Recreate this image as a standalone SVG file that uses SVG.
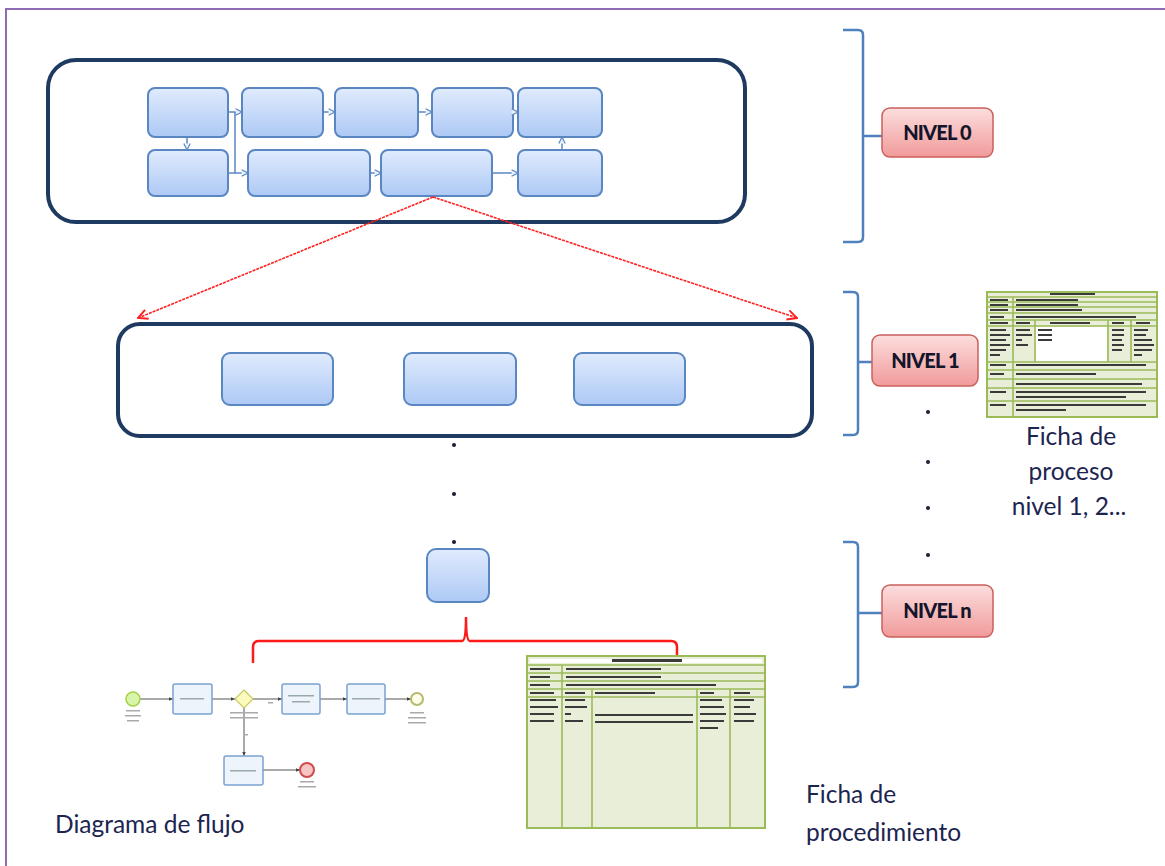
<svg xmlns="http://www.w3.org/2000/svg" width="1165" height="866" viewBox="0 0 1165 866">
<defs>
<linearGradient id="gBlue" x1="0" y1="0" x2="0" y2="1"><stop offset="0" stop-color="#e0ebfd"/><stop offset="1" stop-color="#adc9f5"/></linearGradient>
<linearGradient id="gPink" x1="0" y1="0" x2="0" y2="1"><stop offset="0" stop-color="#fcdede"/><stop offset="1" stop-color="#f19a9a"/></linearGradient>
<marker id="mBlue" viewBox="0 0 10 10" refX="9" refY="5" markerWidth="8" markerHeight="8" orient="auto" markerUnits="userSpaceOnUse"><path d="M1,1 L9,5 L1,9" fill="#eaf1fc" stroke="#5b87c4" stroke-width="1.5"/></marker>
<marker id="mRed" viewBox="0 0 10 10" refX="9" refY="5" markerWidth="12" markerHeight="12" orient="auto" markerUnits="userSpaceOnUse"><path d="M1,1 L9,5 L1,9" fill="none" stroke="#ff2020" stroke-width="1.6"/></marker>
<marker id="mGray" viewBox="0 0 10 10" refX="9" refY="5" markerWidth="5" markerHeight="5" orient="auto" markerUnits="userSpaceOnUse"><path d="M0,1 L9,5 L0,9 Z" fill="#444"/></marker>
</defs>
<style>
.panel{fill:#fff;stroke:#1f3a60;stroke-width:4}
.bx{fill:url(#gBlue);stroke:#5a86c2;stroke-width:2}
.lvl{fill:url(#gPink);stroke:#c9605c;stroke-width:1.5}
.lvlt{font-family:Lato,"Liberation Sans",sans-serif;font-weight:900;font-size:20px;fill:#14142a;text-anchor:middle;letter-spacing:-0.8px}
.brk{fill:none;stroke:#4f81bd;stroke-width:2.5}
.blink{fill:none;stroke:#5b87c4;stroke-width:1.5}
.red{fill:none;stroke:#ff2020;stroke-width:1.6;stroke-dasharray:3 1}
.redb{fill:none;stroke:#ff1a1a;stroke-width:2.5}
.dot{fill:#1b1b33}
.lab{font-family:Lato,"Open Sans","Liberation Sans",sans-serif;font-size:24.5px;fill:#1c2550}
.tbl{fill:#e8eed8;stroke:#9bbb59;stroke-width:2}
.tl{stroke:#9bbb59;stroke-width:1.6;fill:none}
.tx{fill:#3a3a3a}
.wh{fill:#fff}
.task{fill:#eef4fc;stroke:#7aa2cf;stroke-width:1.5}
.fl{fill:none;stroke:#555;stroke-width:1}
</style>
<rect x="6" y="9" width="1160" height="870" fill="none" stroke="#8e6bb3" stroke-width="2"/>

<g id="nivel0-panel">
<rect class="panel" x="48" y="60" width="697" height="162" rx="28"/>
<rect class="bx" x="148" y="88" width="80" height="49" rx="7"/>
<rect class="bx" x="242" y="88" width="81" height="49" rx="7"/>
<rect class="bx" x="335" y="88" width="83" height="49" rx="7"/>
<rect class="bx" x="432" y="88" width="81" height="49" rx="7"/>
<rect class="bx" x="518" y="88" width="84" height="49" rx="7"/>
<rect class="bx" x="148" y="150" width="80" height="46" rx="7"/>
<rect class="bx" x="248" y="150" width="122" height="46" rx="7"/>
<rect class="bx" x="381" y="150" width="111" height="46" rx="7"/>
<rect class="bx" x="518" y="150" width="84" height="46" rx="7"/>
</g>

<g id="nivel1-panel">
<rect class="panel" x="118" y="324" width="694" height="112" rx="22"/>
<rect class="bx" x="222" y="353" width="111" height="52" rx="8"/>
<rect class="bx" x="404" y="353" width="112" height="52" rx="8"/>
<rect class="bx" x="574" y="353" width="111" height="52" rx="8"/>
</g>

<g id="niveln-box">
<rect class="bx" x="427" y="549" width="62" height="53" rx="9"/>
</g>

<g id="connectors">
<line class="blink" x1="187" y1="137" x2="187" y2="150" marker-end="url(#mBlue)"/>
<line class="blink" x1="228" y1="112" x2="242" y2="112" marker-end="url(#mBlue)"/>
<line class="blink" x1="235" y1="112" x2="235" y2="173"/>
<line class="blink" x1="228" y1="173" x2="248" y2="173" marker-end="url(#mBlue)"/>
<line class="blink" x1="323" y1="112" x2="335" y2="112" marker-end="url(#mBlue)"/>
<line class="blink" x1="418" y1="112" x2="432" y2="112" marker-end="url(#mBlue)"/>
<line class="blink" x1="513" y1="112" x2="518" y2="112" marker-end="url(#mBlue)"/>
<line class="blink" x1="370" y1="173" x2="381" y2="173" marker-end="url(#mBlue)"/>
<line class="blink" x1="492" y1="173" x2="518" y2="173" marker-end="url(#mBlue)"/>
<line class="blink" x1="562" y1="150" x2="562" y2="137" marker-end="url(#mBlue)"/>
<line class="red" x1="433" y1="197" x2="138" y2="318" marker-end="url(#mRed)"/>
<line class="red" x1="433" y1="197" x2="797" y2="318" marker-end="url(#mRed)"/>
<path class="redb" d="M253,663 L253,647 Q253,641 259,641 L462,641 Q466,641 466,617 Q466,641 470,641 L671,641 Q677,641 677,647 L677,656"/>
<path class="brk" d="M843,30 L858,30 Q863,30 863,35 L863,237 Q863,242 858,242 L843,242 M863,136 L883,136"/>
<path class="brk" d="M843,292 L853,292 Q858,292 858,297 L858,430 Q858,435 853,435 L843,435 M858,362 L873,362"/>
<path class="brk" d="M843,542 L853,542 Q858,542 858,547 L858,682 Q858,687 853,687 L843,687 M858,613 L882,613"/>
</g>

<g id="dots">
<circle class="dot" cx="454" cy="445" r="2"/>
<circle class="dot" cx="454" cy="494" r="2"/>
<circle class="dot" cx="454" cy="542" r="2"/>
<circle class="dot" cx="928" cy="412" r="2"/>
<circle class="dot" cx="928" cy="462" r="2"/>
<circle class="dot" cx="928" cy="508" r="2"/>
<circle class="dot" cx="928" cy="555" r="2"/>
</g>

<g id="nivel0">
<rect class="lvl" x="882" y="108" width="111" height="49" rx="8"/>
<text class="lvlt" x="937" y="140">NIVEL 0</text>
</g>
<g id="nivel1">
<rect class="lvl" x="872" y="335" width="106" height="51" rx="8"/>
<text class="lvlt" x="925" y="368">NIVEL 1</text>
</g>
<g id="niveln">
<rect class="lvl" x="882" y="585" width="111" height="52" rx="8"/>
<text class="lvlt" x="937" y="618">NIVEL n</text>
</g>

<g id="ficha-proceso">
<rect class="tbl" x="987" y="292" width="170" height="125"/>
<path class="tl" d="M987,297 H1157 M987,302 H1157 M987,307 H1157 M987,313 H1157 M987,320 H1157 M987,326 H1157 M987,362 H1157 M987,370 H1157 M987,379 H1157 M987,388 H1157 M987,401 H1157 M1013,297 V417 M1035,320 V362 M1108,320 V362 M1131,320 V362"/>
<rect class="wh" x="1036" y="327" width="71" height="34"/>
<rect class="tx" x="1050" y="293" width="45" height="2"/>
<rect class="tx" x="990" y="299" width="18" height="2"/><rect class="tx" x="1016" y="299" width="62" height="2"/>
<rect class="tx" x="990" y="304" width="18" height="2"/><rect class="tx" x="1016" y="304" width="62" height="2"/>
<rect class="tx" x="990" y="309" width="18" height="2"/><rect class="tx" x="1016" y="309" width="66" height="2"/>
<rect class="tx" x="990" y="316" width="14" height="2"/><rect class="tx" x="1016" y="316" width="120" height="2"/>
<rect class="tx" x="990" y="322" width="18" height="2"/><rect class="tx" x="1016" y="322" width="14" height="2"/><rect class="tx" x="1050" y="322" width="40" height="2"/><rect class="tx" x="1112" y="322" width="12" height="2"/><rect class="tx" x="1136" y="322" width="14" height="2"/>
<rect class="tx" x="990" y="329" width="16" height="2"/><rect class="tx" x="990" y="334" width="20" height="2"/><rect class="tx" x="990" y="339" width="16" height="2"/><rect class="tx" x="990" y="344" width="20" height="2"/><rect class="tx" x="990" y="349" width="16" height="2"/><rect class="tx" x="990" y="354" width="10" height="2"/>
<rect class="tx" x="1016" y="329" width="14" height="2"/><rect class="tx" x="1016" y="334" width="16" height="2"/><rect class="tx" x="1016" y="339" width="6" height="2"/><rect class="tx" x="1016" y="344" width="12" height="2"/>
<rect class="tx" x="1038" y="329" width="14" height="2"/><rect class="tx" x="1038" y="334" width="14" height="2"/><rect class="tx" x="1038" y="339" width="14" height="2"/>
<rect class="tx" x="1112" y="329" width="12" height="2"/><rect class="tx" x="1112" y="334" width="12" height="2"/><rect class="tx" x="1112" y="339" width="10" height="2"/><rect class="tx" x="1112" y="344" width="12" height="2"/><rect class="tx" x="1112" y="349" width="10" height="2"/>
<rect class="tx" x="1134" y="329" width="14" height="2"/><rect class="tx" x="1134" y="334" width="12" height="2"/><rect class="tx" x="1134" y="339" width="18" height="2"/><rect class="tx" x="1134" y="344" width="20" height="2"/><rect class="tx" x="1134" y="349" width="18" height="2"/><rect class="tx" x="1134" y="354" width="8" height="2"/>
<rect class="tx" x="990" y="364" width="16" height="2"/><rect class="tx" x="1016" y="364" width="130" height="2"/>
<rect class="tx" x="990" y="373" width="14" height="2"/><rect class="tx" x="1016" y="373" width="80" height="2"/>
<rect class="tx" x="1016" y="383" width="126" height="2"/>
<rect class="tx" x="990" y="391" width="16" height="2"/><rect class="tx" x="1016" y="391" width="130" height="2"/><rect class="tx" x="1016" y="396" width="110" height="2"/>
<rect class="tx" x="990" y="404" width="16" height="2"/><rect class="tx" x="1016" y="404" width="130" height="2"/><rect class="tx" x="1016" y="409" width="50" height="2"/>
</g>
<g id="label-ficha-proceso">
<text class="lab" x="1071" y="445" text-anchor="middle" font-size="26">Ficha de</text>
<text class="lab" x="1071" y="480" text-anchor="middle" font-size="26">proceso</text>
<text class="lab" x="1069" y="515" text-anchor="middle" font-size="26">nivel  1, 2...</text>
</g>

<g id="ficha-procedimiento">
<rect class="tbl" x="527" y="656" width="238" height="172"/>
<path class="tl" d="M527,665 H765 M527,673 H765 M527,681 H765 M527,689 H765 M527,697 H765 M562,665 V828 M592,689 V828 M697,689 V828 M730,689 V828"/>
<rect class="wh" x="530" y="659" width="232" height="4"/>
<rect class="tx" x="612" y="659" width="70" height="3"/>
<rect class="tx" x="530" y="668" width="20" height="2"/><rect class="tx" x="566" y="668" width="95" height="2"/>
<rect class="tx" x="530" y="676" width="20" height="2"/><rect class="tx" x="566" y="676" width="95" height="2"/>
<rect class="tx" x="530" y="684" width="20" height="2"/><rect class="tx" x="566" y="684" width="150" height="2"/>
<rect class="tx" x="530" y="692" width="24" height="2"/><rect class="tx" x="565" y="692" width="20" height="2"/><rect class="tx" x="595" y="692" width="60" height="2"/><rect class="tx" x="700" y="692" width="14" height="2"/><rect class="tx" x="734" y="692" width="16" height="2"/>
<rect class="tx" x="530" y="699" width="26" height="2"/><rect class="tx" x="530" y="706" width="28" height="2"/><rect class="tx" x="530" y="713" width="24" height="2"/><rect class="tx" x="530" y="720" width="24" height="2"/>
<rect class="tx" x="565" y="699" width="20" height="2"/><rect class="tx" x="565" y="706" width="22" height="2"/><rect class="tx" x="565" y="713" width="6" height="2"/><rect class="tx" x="565" y="720" width="18" height="2"/>
<rect class="tx" x="595" y="714" width="98" height="2"/><rect class="tx" x="595" y="721" width="98" height="2"/>
<rect class="tx" x="700" y="699" width="22" height="2"/><rect class="tx" x="700" y="706" width="24" height="2"/><rect class="tx" x="700" y="713" width="26" height="2"/><rect class="tx" x="700" y="720" width="24" height="2"/><rect class="tx" x="700" y="727" width="18" height="2"/>
<rect class="tx" x="734" y="699" width="20" height="2"/><rect class="tx" x="734" y="706" width="16" height="2"/><rect class="tx" x="734" y="713" width="22" height="2"/><rect class="tx" x="734" y="720" width="20" height="2"/>
</g>
<g id="label-ficha-procedimiento">
<text class="lab" x="806" y="803">Ficha de</text>
<text class="lab" x="806" y="841">procedimiento</text>
</g>

<g id="diagrama-flujo">
<line class="fl" x1="140" y1="699" x2="173" y2="699" marker-end="url(#mGray)"/>
<line class="fl" x1="212" y1="699" x2="235" y2="699" marker-end="url(#mGray)"/>
<line class="fl" x1="253" y1="699" x2="282" y2="699" marker-end="url(#mGray)"/>
<line class="fl" x1="320" y1="699" x2="347" y2="699" marker-end="url(#mGray)"/>
<line class="fl" x1="385" y1="699" x2="411" y2="699" marker-end="url(#mGray)"/>
<line class="fl" x1="244" y1="708" x2="244" y2="756" marker-end="url(#mGray)"/>
<line class="fl" x1="263" y1="770" x2="300" y2="770" marker-end="url(#mGray)"/>
<circle cx="133" cy="699" r="7" fill="#d9f5a8" stroke="#a3d14a" stroke-width="1.5"/>
<rect class="task" x="173" y="684" width="39" height="30" rx="2"/>
<polygon points="244,690 253,699 244,708 235,699" fill="#fbfbc0" stroke="#c9c960" stroke-width="1.2"/>
<rect class="task" x="282" y="684" width="38" height="30" rx="2"/>
<rect class="task" x="347" y="684" width="38" height="30" rx="2"/>
<circle cx="417" cy="699" r="6" fill="#fdfde8" stroke="#b8b870" stroke-width="2"/>
<rect class="task" x="224" y="756" width="39" height="29" rx="2"/>
<circle cx="307" cy="770" r="7" fill="#f7c5c5" stroke="#d04a4a" stroke-width="2"/>
<rect x="180" y="698" width="24" height="1.5" fill="#9aa"/>
<rect x="288" y="695" width="26" height="1.5" fill="#9aa"/><rect x="292" y="701" width="18" height="1.5" fill="#9aa"/>
<rect x="352" y="698" width="28" height="1.5" fill="#9aa"/>
<rect x="230" y="770" width="26" height="1.5" fill="#9aa"/>
<rect x="126" y="710" width="14" height="1.5" fill="#aaa"/><rect x="125" y="715" width="16" height="1.5" fill="#aaa"/><rect x="127" y="720" width="12" height="1.5" fill="#aaa"/>
<rect x="230" y="712" width="28" height="1.5" fill="#aaa"/><rect x="230" y="717" width="28" height="1.5" fill="#aaa"/>
<rect x="410" y="712" width="14" height="1.5" fill="#aaa"/><rect x="408" y="717" width="18" height="1.5" fill="#aaa"/><rect x="408" y="722" width="18" height="1.5" fill="#aaa"/>
<rect x="300" y="781" width="14" height="1.5" fill="#aaa"/><rect x="298" y="786" width="18" height="1.5" fill="#aaa"/>
<rect x="268" y="702" width="5" height="1.5" fill="#aaa"/><rect x="244" y="734" width="4" height="1.5" fill="#aaa"/>
</g>
<g id="label-diagrama">
<text class="lab" x="55" y="833">Diagrama de flujo</text>
</g>
</svg>
